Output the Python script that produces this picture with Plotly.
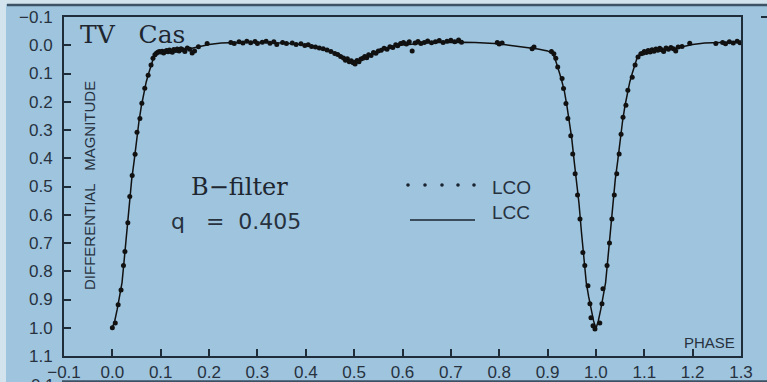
import plotly.graph_objects as go

# ---------------------------------------------------------------
# TV Cas, B-filter light curve: observed points (LCO) and the
# computed synthetic curve (LCC), q = 0.405
# ---------------------------------------------------------------

# Observed differential magnitudes (LCO)
lco_phase = [
    0.000, 0.006, 0.012, 0.018, 0.023, 0.026, 0.032, 0.036, 0.041, 0.047,
    0.051, 0.057, 0.061, 0.067, 0.074, 0.080, 0.084, 0.088, 0.091,
    0.094, 0.097, 0.100, 0.103, 0.106, 0.109, 0.112, 0.115, 0.118, 0.121,
    0.124, 0.127, 0.131, 0.134, 0.138, 0.142, 0.146, 0.150, 0.155, 0.160,
    0.165, 0.170, 0.178, 0.196,
    0.245, 0.252, 0.262, 0.270, 0.278, 0.286, 0.295, 0.300, 0.310, 0.318,
    0.326, 0.334, 0.340, 0.352, 0.360, 0.372, 0.380, 0.390, 0.398, 0.405,
    0.412, 0.420, 0.428, 0.436, 0.444, 0.452, 0.460, 0.466, 0.472, 0.478,
    0.482, 0.486, 0.490, 0.494, 0.498, 0.502, 0.506, 0.510, 0.514, 0.518,
    0.522, 0.526, 0.530, 0.535, 0.540, 0.545, 0.550, 0.556, 0.562, 0.568,
    0.574, 0.580, 0.586, 0.590, 0.596, 0.602, 0.608, 0.614, 0.620, 0.626,
    0.632, 0.638, 0.645, 0.652, 0.660, 0.668, 0.676, 0.684, 0.692, 0.700,
    0.708, 0.716, 0.722,
    0.796, 0.800, 0.806, 0.868, 0.872, 0.908, 0.913, 0.917,
    0.921, 0.930, 0.933, 0.938, 0.942, 0.948, 0.952, 0.957, 0.962, 0.967,
    0.973, 0.977, 0.9835, 0.9876, 0.9897, 0.994, 0.998,
    1.008, 1.0125, 1.0145, 1.023, 1.028, 1.033, 1.038, 1.043, 1.048, 1.052,
    1.056, 1.062, 1.066, 1.075, 1.081, 1.087, 1.093,
    1.097, 1.100, 1.104, 1.108, 1.112, 1.116, 1.120, 1.124, 1.128, 1.132,
    1.136, 1.140, 1.145, 1.150, 1.155, 1.160, 1.165, 1.170, 1.178, 1.194,
    1.248, 1.262, 1.268, 1.276, 1.284, 1.292, 1.298,
]
lco_mag = [
    1.000, 0.983, 0.919, 0.866, 0.780, 0.730, 0.628, 0.535, 0.461, 0.386,
    0.308, 0.259, 0.205, 0.152, 0.106, 0.070, 0.046, 0.034, 0.028,
    0.025, 0.022, 0.024, 0.021, 0.027, 0.022, 0.019, 0.023, 0.017, 0.021,
    0.025, 0.015, 0.019, 0.013, 0.020, 0.012, 0.016, 0.022, 0.010, 0.014,
    0.027, 0.020, 0.005, -0.006,
    -0.010, -0.006, -0.012, -0.008, -0.014, -0.009, -0.013, -0.006, -0.011, -0.014,
    -0.007, -0.012, -0.003, -0.010, -0.006, -0.008, -0.003, -0.005, 0.001, -0.002,
    0.004, 0.006, 0.010, 0.012, 0.017, 0.022, 0.029, 0.033, 0.040, 0.045,
    0.053, 0.048, 0.058, 0.055, 0.062, 0.066, 0.054, 0.058, 0.049, 0.046,
    0.040, 0.044, 0.034, 0.036, 0.026, 0.028, 0.020, 0.018, 0.011, 0.014,
    0.005, 0.008, -0.002, 0.002, -0.006, -0.010, -0.004, -0.012, 0.020, -0.008,
    -0.013, -0.006, -0.010, -0.015, -0.009, -0.012, -0.017, -0.010, -0.014, -0.018,
    -0.012, -0.019, -0.011,
    -0.010, -0.004, -0.008, 0.012, 0.006, 0.022, 0.030, 0.046,
    0.077, 0.118, 0.153, 0.206, 0.259, 0.320, 0.385, 0.455, 0.530, 0.615,
    0.734, 0.780, 0.851, 0.915, 0.965, 0.993, 1.004,
    0.983, 0.915, 0.862, 0.780, 0.700, 0.615, 0.530, 0.455, 0.385, 0.315,
    0.255, 0.212, 0.159, 0.113, 0.070, 0.042, 0.030,
    0.028, 0.022, 0.026, 0.019, 0.024, 0.016, 0.021, 0.013, 0.018, 0.011,
    0.016, 0.022, 0.010, 0.014, 0.008, 0.012, 0.020, 0.006, 0.004, -0.007,
    -0.006, -0.010, -0.005, -0.012, -0.008, -0.014, -0.009,
]

# Computed synthetic light curve (LCC)
lcc_phase = [
    0.000, 0.005, 0.010, 0.015, 0.020, 0.025, 0.030, 0.035, 0.040, 0.045,
    0.050, 0.055, 0.060, 0.065, 0.070, 0.075, 0.080, 0.085, 0.090, 0.095,
    0.100, 0.120, 0.140, 0.160, 0.180, 0.200, 0.225, 0.250, 0.275, 0.300,
    0.325, 0.350, 0.375, 0.400, 0.420, 0.440, 0.460, 0.480, 0.490, 0.500,
    0.510, 0.520, 0.540, 0.560, 0.580, 0.600, 0.625, 0.650, 0.675, 0.700,
    0.725, 0.750, 0.775, 0.800, 0.820, 0.840, 0.860, 0.880, 0.900, 0.905,
    0.910, 0.915, 0.920, 0.925, 0.930, 0.935, 0.940, 0.945, 0.950, 0.955,
    0.960, 0.965, 0.970, 0.975, 0.980, 0.985, 0.990, 0.995, 1.000,
    1.005, 1.010, 1.015, 1.020, 1.025, 1.030, 1.035, 1.040, 1.045, 1.050,
    1.055, 1.060, 1.065, 1.070, 1.075, 1.080, 1.085, 1.090, 1.095, 1.100,
    1.120, 1.140, 1.160, 1.180, 1.200, 1.225, 1.250, 1.275, 1.300,
]
lcc_mag = [
    1.000, 0.975, 0.935, 0.890, 0.840, 0.750, 0.660, 0.560, 0.475, 0.410,
    0.330, 0.270, 0.215, 0.165, 0.130, 0.100, 0.070, 0.045, 0.032, 0.026,
    0.024, 0.021, 0.017, 0.012, 0.004, -0.003, -0.008, -0.010, -0.011, -0.011,
    -0.010, -0.008, -0.005, -0.001, 0.005, 0.014, 0.027, 0.045, 0.052, 0.055,
    0.052, 0.045, 0.027, 0.014, 0.005, -0.001, -0.005, -0.008, -0.010, -0.011,
    -0.011, -0.010, -0.008, -0.005, 0.000, 0.004, 0.009, 0.013, 0.020, 0.024,
    0.030, 0.045, 0.070, 0.100, 0.130, 0.165, 0.215, 0.270, 0.330, 0.410,
    0.475, 0.560, 0.660, 0.750, 0.840, 0.890, 0.935, 0.975, 1.003,
    0.975, 0.935, 0.890, 0.840, 0.750, 0.660, 0.560, 0.475, 0.410, 0.330,
    0.270, 0.215, 0.165, 0.130, 0.100, 0.070, 0.045, 0.032, 0.026, 0.024,
    0.021, 0.017, 0.012, 0.004, -0.003, -0.008, -0.010, -0.011, -0.011,
]

x_ticks = [-0.1, 0.0, 0.1, 0.2, 0.3, 0.4, 0.5, 0.6, 0.7, 0.8, 0.9, 1.0, 1.1, 1.2, 1.3]
y_ticks = [-0.1, 0.0, 0.1, 0.2, 0.3, 0.4, 0.5, 0.6, 0.7, 0.8, 0.9, 1.0, 1.1]

# ---------------------------------------------------------------
# Page geometry (pixels) and helpers to place decorations
# ---------------------------------------------------------------
W, H = 767, 382
L, R, T, B = 64, 741, 17, 356
PW, PH = R - L, B - T

def px(xp):
    return (xp - L) / PW

def py(yp):
    return (B - yp) / PH

BG = "#9ec4de"
INK = "#1f2c3a"
TXT = "#27323e"
SANS = "Liberation Sans, Arial, sans-serif"
SERIF = "DejaVu Serif, serif"

fig = go.Figure()

fig.add_trace(go.Scatter(
    x=lcc_phase, y=lcc_mag, mode="lines", name="LCC",
    line=dict(color="#111111", width=1.5), showlegend=False,
))
fig.add_trace(go.Scatter(
    x=lco_phase, y=lco_mag, mode="markers", name="LCO",
    marker=dict(color="#111111", size=5), showlegend=False,
))

axis_common = dict(
    showgrid=False, zeroline=False, showline=True, linewidth=2,
    linecolor=INK, mirror=True, ticks="inside", ticklen=7, tickwidth=2,
    tickcolor=INK, tickformat=".1f", automargin=False,
    tickfont=dict(family=SANS, size=17, color=TXT),
)

fig.update_layout(
    width=W, height=H,
    margin=dict(l=L, r=W - R, t=T, b=H - B, pad=0, autoexpand=False),
    paper_bgcolor=BG, plot_bgcolor=BG,
    xaxis=dict(range=[-0.1, 1.3], tickvals=x_ticks, **axis_common),
    yaxis=dict(range=[1.1, -0.1], tickvals=y_ticks, ticklabelstandoff=6,
               **axis_common),
)

annotations = [
    dict(text="TV\u00a0\u00a0\u00a0Cas", x=px(78), y=py(34), xanchor="left", yanchor="middle",
         font=dict(family=SERIF, size=25, color="#1e2630")),
    dict(text="B\u2212filter", x=px(189), y=py(187), xanchor="left", yanchor="middle",
         font=dict(family=SERIF, size=24, color="#1e2630")),
    dict(text="q\u00a0\u00a0\u00a0=\u00a0\u00a00.405", x=px(169), y=py(221), xanchor="left",
         yanchor="middle", font=dict(family="DejaVu Sans, sans-serif", size=22, color=TXT)),
    dict(text="DIFFERENTIAL\u00a0\u00a0\u00a0MAGNITUDE", x=px(89), y=py(186), textangle=-90,
         xanchor="center", yanchor="middle", font=dict(family=SANS, size=15, color=TXT)),
    dict(text="PHASE", x=px(737), y=py(342), xanchor="right", yanchor="middle",
         font=dict(family=SANS, size=15, color=TXT)),
    dict(text="LCO", x=px(490), y=py(187), xanchor="left", yanchor="middle",
         font=dict(family=SANS, size=19, color=TXT)),
    dict(text="LCC", x=px(490), y=py(212), xanchor="left", yanchor="middle",
         font=dict(family=SANS, size=19, color=TXT)),
    # top of a tick label from the neighbouring panel below
    dict(text="\u22120.1", x=px(38), y=py(385), xanchor="center", yanchor="middle",
         font=dict(family=SANS, size=17, color=TXT)),
]
for a in annotations:
    a.update(xref="paper", yref="paper", showarrow=False)
fig.update_layout(annotations=annotations)

shapes = []
# legend key: dotted row for LCO, solid line for LCC
for xd in [408, 425, 442, 458, 474]:
    shapes.append(dict(type="circle", xref="paper", yref="paper",
                       x0=px(xd - 1.8), x1=px(xd + 1.8), y0=py(185 + 1.8), y1=py(185 - 1.8),
                       fillcolor="#1a2430", line=dict(width=0)))
shapes.append(dict(type="line", xref="paper", yref="paper",
                   x0=px(410), x1=px(475), y0=py(220), y1=py(220),
                   line=dict(color="#1a2430", width=1.5)))
# light page border and frame rules of the surrounding figure
shapes += [
    dict(type="rect", xref="paper", yref="paper", x0=px(0), x1=px(6), y0=py(H), y1=py(0),
         fillcolor="#d3e3ee", line=dict(width=0), layer="below"),
    dict(type="rect", xref="paper", yref="paper", x0=px(0), x1=px(W), y0=py(4), y1=py(0),
         fillcolor="#d3e3ee", line=dict(width=0), layer="below"),
    dict(type="line", xref="paper", yref="paper", x0=px(7), x1=px(W), y0=py(5), y1=py(5),
         line=dict(color="#3d5264", width=2.5)),
    dict(type="line", xref="paper", yref="paper", x0=px(62), x1=px(W), y0=py(381.5), y1=py(381.5),
         line=dict(color="#3d5264", width=2.5)),
    dict(type="line", xref="paper", yref="paper", x0=px(761), x1=px(W), y0=py(17), y1=py(17),
         line=dict(color=INK, width=2)),
]
fig.update_layout(shapes=shapes)

fig.write_html("out.html")
